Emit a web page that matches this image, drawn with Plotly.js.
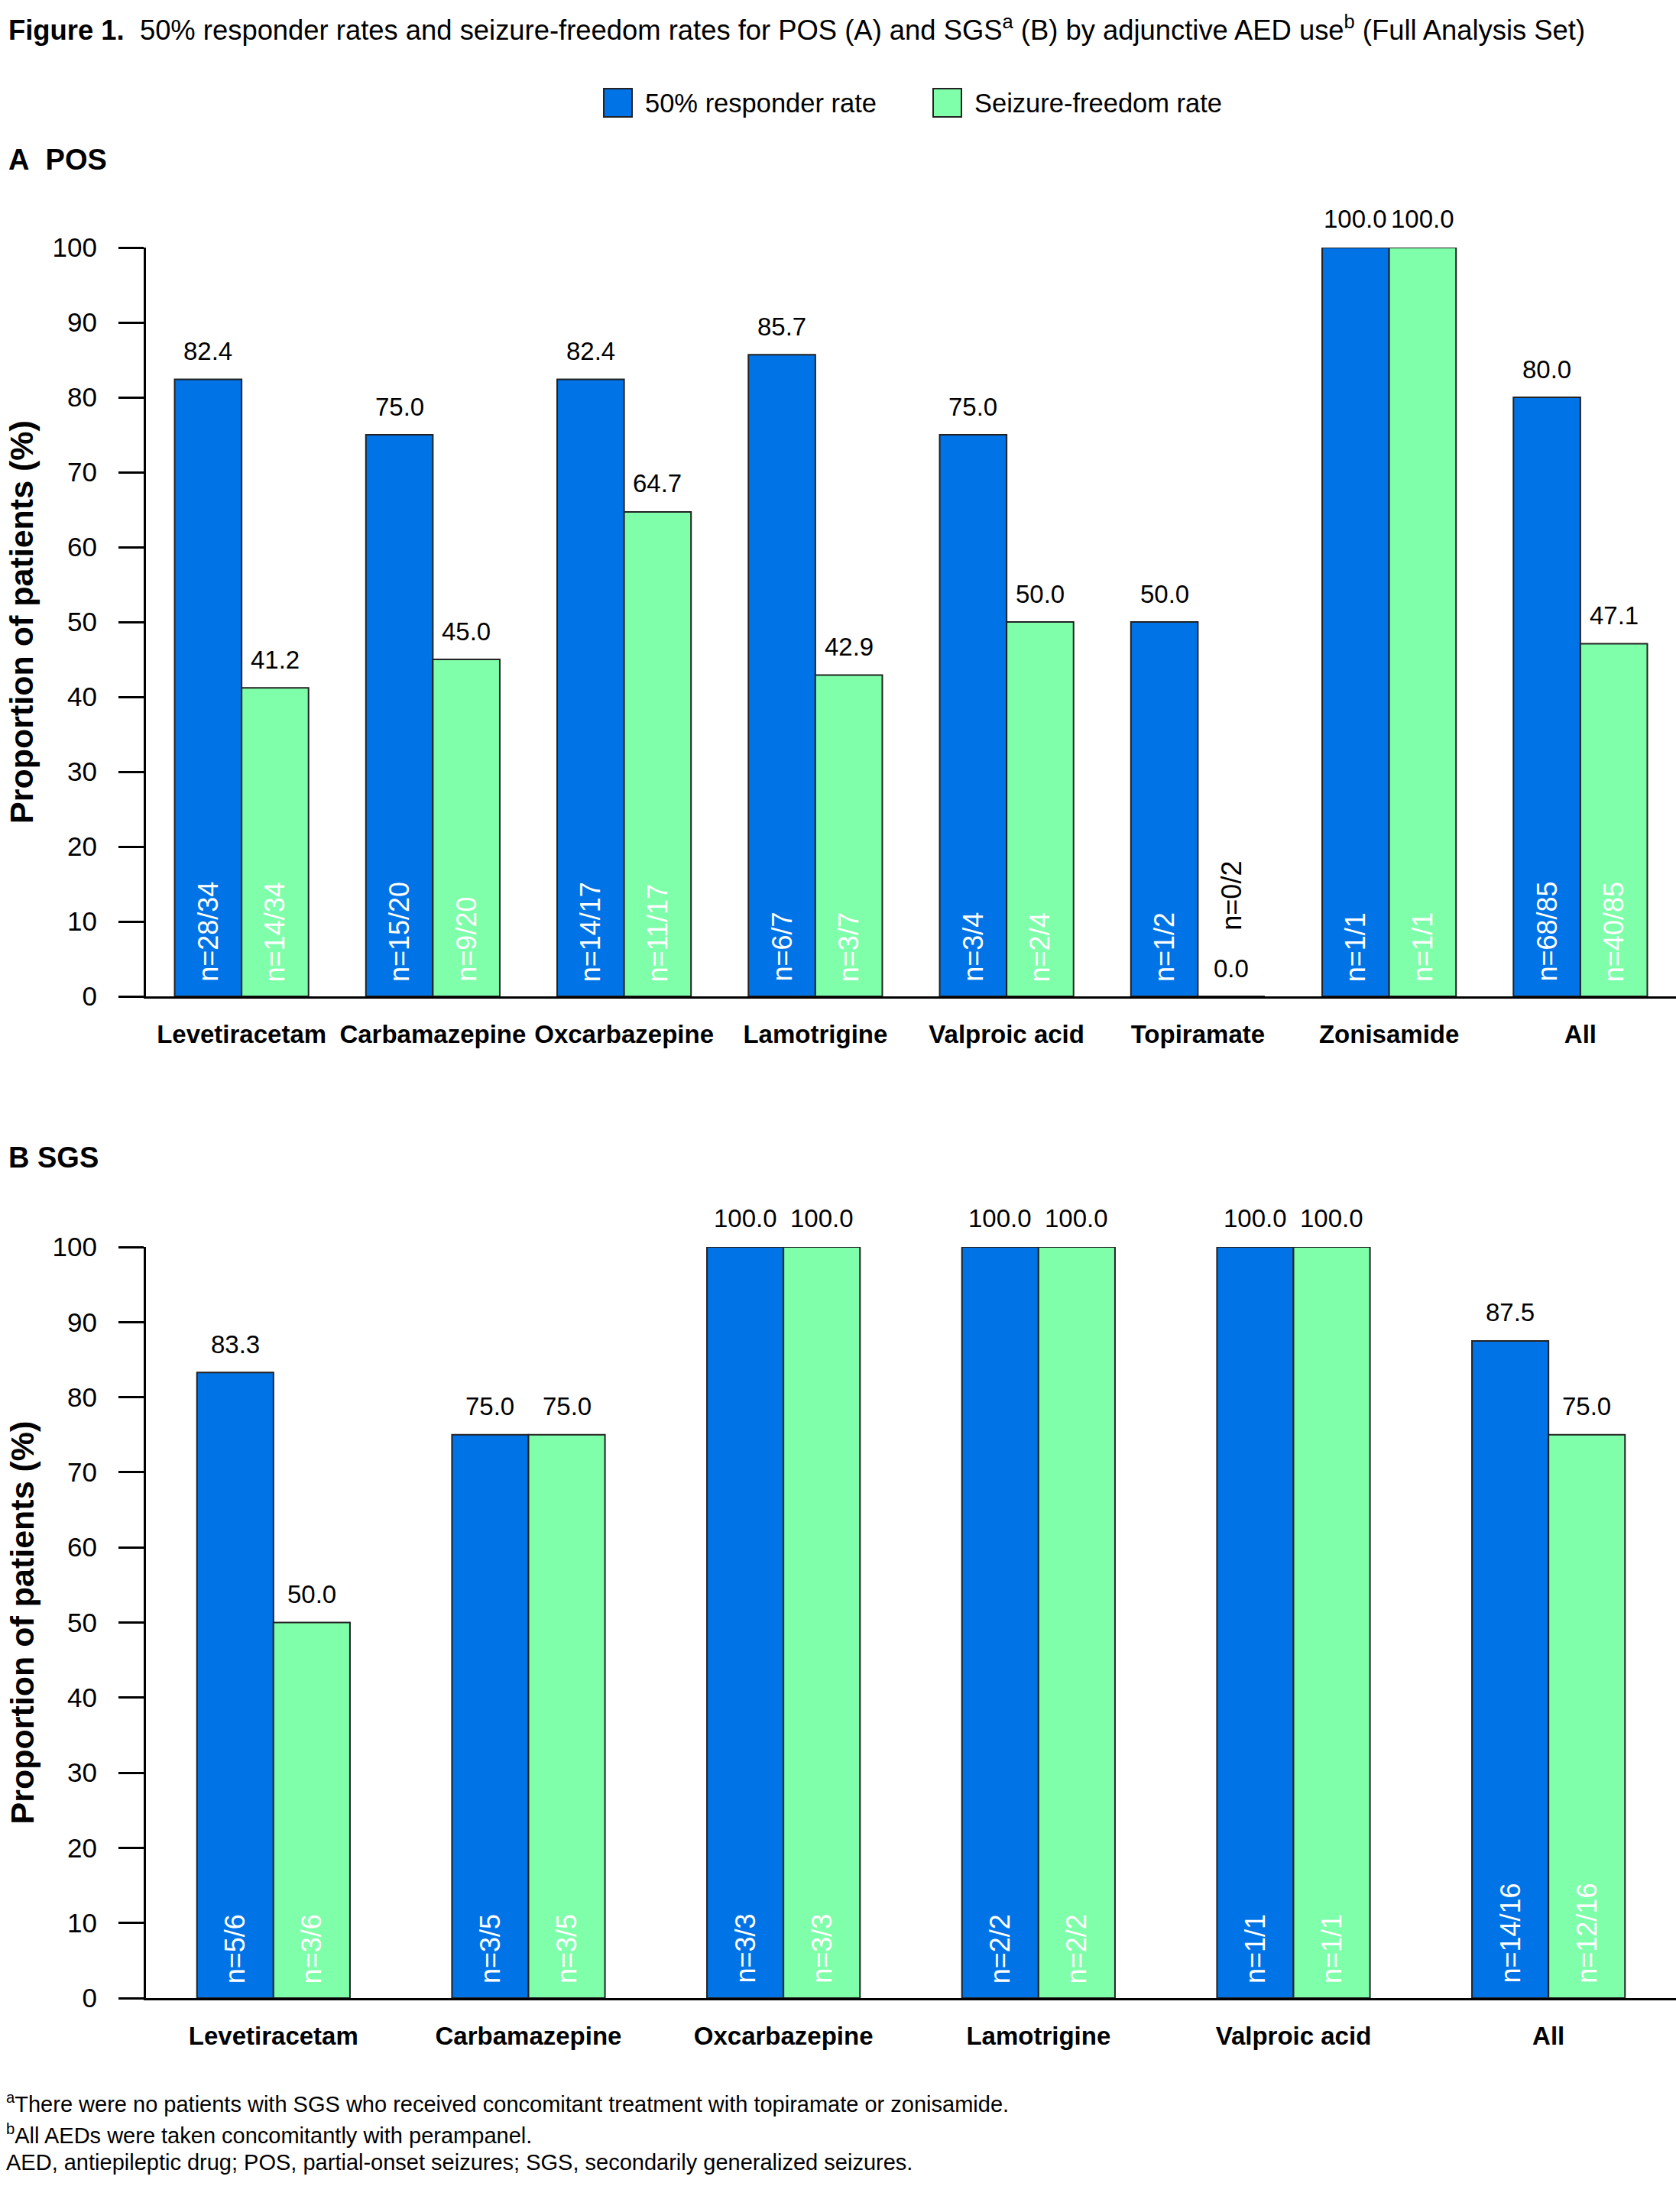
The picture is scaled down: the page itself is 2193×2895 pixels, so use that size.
<!DOCTYPE html>
<html><head><meta charset="utf-8">
<script src="https://cdn.plot.ly/plotly-3.0.1.min.js"></script>
<style>html,body{margin:0;padding:0;background:#fff}</style>
</head><body><div id="chart" style="width:2193px;height:2895px"></div>
<script>
// ---- data ----
const posCategories = ['Levetiracetam','Carbamazepine','Oxcarbazepine','Lamotrigine','Valproic acid','Topiramate','Zonisamide','All'];
const posResponder = [82.4, 75.0, 82.4, 85.7, 75.0, 50.0, 100.0, 80.0];
const posSeizureFree = [41.2, 45.0, 64.7, 42.9, 50.0, 0.0, 100.0, 47.1];
const posResponderN = ['n=28/34','n=15/20','n=14/17','n=6/7','n=3/4','n=1/2','n=1/1','n=68/85'];
const posSeizureFreeN = ['n=14/34','n=9/20','n=11/17','n=3/7','n=2/4','n=0/2','n=1/1','n=40/85'];

const sgsCategories = ['Levetiracetam','Carbamazepine','Oxcarbazepine','Lamotrigine','Valproic acid','All'];
const sgsResponder = [83.3, 75.0, 100.0, 100.0, 100.0, 87.5];
const sgsSeizureFree = [50.0, 75.0, 100.0, 100.0, 100.0, 75.0];
const sgsResponderN = ['n=5/6','n=3/5','n=3/3','n=2/2','n=1/1','n=14/16'];
const sgsSeizureFreeN = ['n=3/6','n=3/5','n=3/3','n=2/2','n=1/1','n=12/16'];

const yTickVals = [0,10,20,30,40,50,60,70,80,90,100];
const seriesNames = ['50% responder rate','Seizure-freedom rate'];

const titleText = '<b>Figure 1.</b>&nbsp; 50% responder rates and seizure-freedom rates for POS (A) and SGS<sup>a</sup> (B) by adjunctive AED use<sup>b</sup> (Full Analysis Set)';
const panelATitle = '<b>A&nbsp;&nbsp;POS</b>';
const panelBTitle = '<b>B SGS</b>';
const yTitle = '<b>Proportion of patients (%)</b>';
const footnotes = [
  '<sup>a</sup>There were no patients with SGS who received concomitant treatment with topiramate or zonisamide.',
  '<sup>b</sup>All AEDs were taken concomitantly with perampanel.',
  'AED, antiepileptic drug; POS, partial-onset seizures; SGS, secondarily generalized seizures.'
];

// ---- style ----
const W = 2193, H = 2895;
const BLUE = '#0073E6', GREEN = '#7FFFAA', OUTLINE = '#222222';
const FONT = 'Liberation Sans, Arial, sans-serif';
const py = v => 1 - v / H;
const px = v => v / W;
const xDom = [px(191), 1];
const yDomA = [py(1304), py(324)];
const yDomB = [py(2615), py(1632)];
const barWA = 0.35, barWB = 0.30;

const traces = [];
function addPanel(cats, resp, free, xa, ya, bw) {
  traces.push({type:'bar', x:cats, y:resp, name:seriesNames[0], xaxis:xa, yaxis:ya,
    offset:-bw, width:bw, marker:{color:BLUE, line:{color:OUTLINE, width:2}},
    showlegend:false, hoverinfo:'none'});
  traces.push({type:'bar', x:cats, y:free, name:seriesNames[1], xaxis:xa, yaxis:ya,
    offset:0, width:bw, marker:{color:GREEN, line:{color:OUTLINE, width:2}},
    showlegend:false, hoverinfo:'none'});
}
addPanel(posCategories, posResponder, posSeizureFree, 'x', 'y', barWA);
addPanel(sgsCategories, sgsResponder, sgsSeizureFree, 'x2', 'y2', barWB);

const annotations = [];
function labelPanel(cats, resp, free, respN, freeN, xr, yr, bw) {
  cats.forEach((c, i) => {
    [[resp, respN, -bw/2], [free, freeN, bw/2]].forEach(([vals, ns, off]) => {
      const v = vals[i];
      annotations.push({xref:xr, yref:yr, x:i+off, y:v, text:v.toFixed(1), showarrow:false,
        yanchor:'middle', xanchor:'center', yshift:37, font:{family:FONT, size:33, color:'#000'}});
      annotations.push({xref:xr, yref:yr, x:i+off, y:0, text:ns[i], showarrow:false,
        textangle:-90, yanchor:'bottom', xanchor:'center', yshift: v === 0 ? 84 : 17,
        font:{family:FONT, size:36, color: v === 0 ? '#000' : '#fff'}});
    });
  });
}
labelPanel(posCategories, posResponder, posSeizureFree, posResponderN, posSeizureFreeN, 'x', 'y', barWA);
labelPanel(sgsCategories, sgsResponder, sgsSeizureFree, sgsResponderN, sgsSeizureFreeN, 'x2', 'y2', barWB);

// titles & text
annotations.push({xref:'paper', yref:'paper', x:px(9), y:py(37), xanchor:'left', yanchor:'middle',
  text:titleText, showarrow:false, font:{family:FONT, size:36.4, color:'#000'}});
annotations.push({xref:'paper', yref:'paper', x:px(9), y:py(209), xanchor:'left', yanchor:'middle',
  text:panelATitle, showarrow:false, font:{family:FONT, size:38, color:'#000'}});
annotations.push({xref:'paper', yref:'paper', x:px(9), y:py(1515), xanchor:'left', yanchor:'middle',
  text:panelBTitle, showarrow:false, font:{family:FONT, size:38, color:'#000'}});
[yDomA, yDomB].forEach(d => {
  annotations.push({xref:'paper', yref:'paper', x:px(28), y:(d[0]+d[1])/2, xanchor:'center', yanchor:'middle',
    textangle:-90, text:yTitle, showarrow:false, font:{family:FONT, size:43, color:'#000'}});
});
[2752, 2793, 2830].forEach((yy, k) => {
  annotations.push({xref:'paper', yref:'paper', x:px(6), y:py(yy), xanchor:'left', yanchor:'middle',
    text:footnotes[k], showarrow:false, font:{family:FONT, size:29, color:'#000'}});
});

// legend (drawn manually to get large swatches)
const shapes = [];
const legendItems = [[790, BLUE, seriesNames[0]], [1221, GREEN, seriesNames[1]]];
legendItems.forEach(([x0, col, name]) => {
  shapes.push({type:'rect', xref:'paper', yref:'paper', x0:px(x0), x1:px(x0+37), y0:py(153), y1:py(116),
    fillcolor:col, line:{color:OUTLINE, width:2}});
  annotations.push({xref:'paper', yref:'paper', x:px(x0+52), y:py(135), xanchor:'left', yanchor:'middle',
    text:name, showarrow:false, font:{family:FONT, size:34.5, color:'#000'}});
});

function yAxis(dom, anchor) {
  return {domain:dom, anchor:anchor, range:[0,100], tickvals:yTickVals, showline:true, linewidth:3,
    linecolor:'#000', ticks:'outside', ticklen:33, tickwidth:3, tickcolor:'#000', showgrid:false,
    zeroline:false, fixedrange:true, ticklabelstandoff:21, tickfont:{family:FONT, size:35, color:'#000'}};
}
function xAxis(dom, anchor, n) {
  return {domain:dom, anchor:anchor, range:[-0.5, n-0.5], type:'category', showline:true, linewidth:3,
    linecolor:'#000', ticks:'', showgrid:false, zeroline:false, fixedrange:true, ticklabelstandoff:18,
    tickangle:0, tickfont:{family:FONT, size:33, color:'#000', weight:'bold'}};
}

const layout = {
  width:W, height:H, margin:{l:0, r:0, t:0, b:0}, paper_bgcolor:'#fff', plot_bgcolor:'#fff',
  barmode:'overlay', showlegend:false,
  xaxis: xAxis(xDom, 'y', posCategories.length),
  yaxis: yAxis(yDomA, 'x'),
  xaxis2: xAxis(xDom, 'y2', sgsCategories.length),
  yaxis2: yAxis(yDomB, 'x2'),
  annotations: annotations, shapes: shapes
};
Plotly.newPlot('chart', traces, layout, {displayModeBar:false, staticPlot:true});
</script></body></html>
